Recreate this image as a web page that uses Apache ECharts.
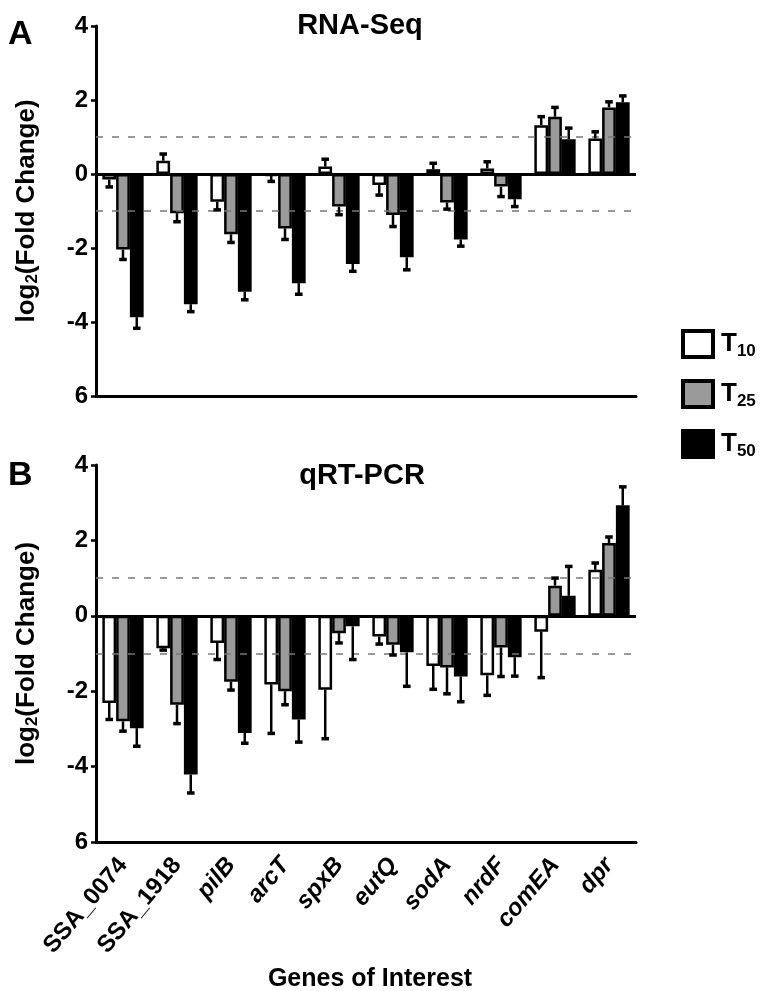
<!DOCTYPE html>
<html>
<head>
<meta charset="utf-8">
<script src="https://cdn.jsdelivr.net/npm/echarts@6/dist/echarts.min.js"></script>
<style>html,body{margin:0;padding:0;background:#fff;}#c{width:761px;height:991px;}</style>
</head>
<body>
<div id="c"></div>
<script>
const categories = ['SSA_0074','SSA_1918','pilB','arcT','spxB','eutQ','sodA','nrdF','comEA','dpr'];
const seriesNames = ['T10','T25','T50'];
const yTicks = [-6,-4,-2,0,2,4];
const yTickLabels = ['6','-4','-2','0','2','4'];
const thresholds = [1,-1];

// Panel A: RNA-Seq
const rnaT10 = [-0.15, 0.36, -0.75, -0.05, 0.20, -0.30, 0.13, 0.15, 1.32, 0.96];
const rnaT10Err = [0.20, 0.18, 0.22, 0.15, 0.20, 0.27, 0.16, 0.18, 0.23, 0.18];
const rnaT25 = [-2.04, -1.06, -1.63, -1.47, -0.88, -1.11, -0.77, -0.34, 1.55, 1.80];
const rnaT25Err = [0.27, 0.23, 0.22, 0.30, 0.22, 0.31, 0.18, 0.27, 0.25, 0.15];
const rnaT50 = [-3.87, -3.52, -3.18, -2.95, -2.43, -2.25, -1.77, -0.68, 0.94, 1.94];
const rnaT50Err = [0.30, 0.20, 0.22, 0.30, 0.20, 0.34, 0.18, 0.20, 0.30, 0.17];

// Panel B: qRT-PCR
const pcrT10 = [-2.31, -0.86, -0.72, -1.82, -1.96, -0.55, -1.33, -1.58, -0.42, 1.22];
const pcrT10Err = [0.44, 0.05, 0.44, 1.30, 1.30, 0.20, 0.62, 0.53, 1.22, 0.18];
const pcrT25 = [-2.80, -2.36, -1.75, -2.00, -0.46, -0.77, -1.37, -0.84, 0.80, 1.93];
const pcrT25Err = [0.26, 0.50, 0.22, 0.36, 0.26, 0.27, 0.70, 0.77, 0.20, 0.16];
const pcrT50 = [-2.98, -4.21, -3.11, -2.75, -0.28, -0.97, -1.61, -1.10, 0.53, 2.93];
const pcrT50Err = [0.48, 0.49, 0.27, 0.60, 0.88, 0.90, 0.67, 0.50, 0.78, 0.49];

const FONT = "'Liberation Sans', Arial, Helvetica, sans-serif";
const fills = ['#ffffff', '#9a9a9a', '#000000'];
const BAR_FRAC = 0.255;
const italicGenes = ['pilB','arcT','spxB','eutQ','sodA','nrdF','comEA','dpr'];

function errRender(pos) {
  return function (params, api) {
    const idx = api.value(0), v = api.value(1), e = api.value(2);
    const band = api.size([1, 0])[0];
    const bw = band * BAR_FRAC;
    const x = api.coord([idx, 0])[0] + (pos - 1) * bw;
    const dir = v >= 0 ? 1 : -1;
    const y0 = api.coord([idx, v])[1];
    const y1 = api.coord([idx, v + dir * e])[1];
    const cap = bw * 0.55;
    return {
      type: 'group',
      children: [
        {type: 'line', shape: {x1: x, y1: y0, x2: x, y2: y1}, style: {stroke: '#000', lineWidth: 2.5}},
        {type: 'line', shape: {x1: x - cap / 2, y1: y1, x2: x + cap / 2, y2: y1}, style: {stroke: '#000', lineWidth: 3.5}}
      ]
    };
  };
}

function yAxisFor(gi) {
  return {
    type: 'value', gridIndex: gi, min: -6, max: 4, interval: 2,
    axisLine: {show: true, lineStyle: {color: '#000', width: 3}},
    axisTick: {show: true, length: 5, lineStyle: {color: '#000', width: 2.5}},
    splitLine: {show: false},
    axisLabel: {
      fontFamily: FONT, fontWeight: 'bold', fontSize: 24, color: '#000', margin: 8,
      formatter: v => yTickLabels[yTicks.indexOf(v)]
    },
    name: '{a|log}{s|2}{a|(Fold Change)}',
    nameLocation: 'middle', nameRotate: 90, nameGap: 55,
    nameTextStyle: {
      rich: {
        a: {fontFamily: FONT, fontWeight: 'bold', fontSize: 26, color: '#000'},
        s: {fontFamily: FONT, fontWeight: 'bold', fontSize: 17, color: '#000', padding: [11, 0, 0, 0]}
      }
    }
  };
}

function xAxisFor(gi, showLabels) {
  return {
    type: 'category', gridIndex: gi, data: categories, position: 'bottom',
    axisLine: {onZero: false, lineStyle: {color: '#000', width: 3}},
    axisTick: {alignWithLabel: true, length: 6, lineStyle: {color: '#000', width: 2.5}},
    axisLabel: showLabels ? {
      show: true, rotate: 50, margin: 19, interval: 0,
      formatter: v => italicGenes.includes(v) ? '{i|' + v + '}' : '{n|' + v + '}',
      rich: {
        i: {fontFamily: FONT, fontWeight: 'bold', fontStyle: 'italic', fontSize: 24, color: '#000'},
        n: {fontFamily: FONT, fontWeight: 'bold', fontSize: 24, color: '#000'}
      }
    } : {show: false}
  };
}

function panelSeries(gi, vals, errs) {
  const out = [];
  vals.forEach((arr, k) => {
    const s = {
      name: seriesNames[k], type: 'bar', xAxisIndex: gi, yAxisIndex: gi,
      data: arr, barWidth: (BAR_FRAC * 100) + '%', barGap: '0%',
      itemStyle: {color: fills[k], borderColor: '#000', borderWidth: 2.5},
      z: 2
    };
    if (k === 0) {
      s.markLine = {
        silent: true, symbol: 'none', label: {show: false}, animation: false,
        data: [
          {yAxis: 0, lineStyle: {color: '#000', width: 3, type: 'solid'}},
          {yAxis: thresholds[0], lineStyle: {color: '#777', width: 1.5, type: [7, 9]}},
          {yAxis: thresholds[1], lineStyle: {color: '#777', width: 1.5, type: [7, 9]}}
        ]
      };
    }
    out.push(s);
  });
  vals.forEach((arr, k) => {
    out.push({
      name: 'err' + gi + k, type: 'custom', xAxisIndex: gi, yAxisIndex: gi,
      renderItem: errRender(k), z: 5,
      data: arr.map((v, i) => [i, v, errs[k][i]])
    });
  });
  return out;
}

const chart = echarts.init(document.getElementById('c'), null, {renderer: 'canvas'});
chart.setOption({
  animation: false,
  backgroundColor: '#fff',
  grid: [
    {left: 96, top: 26, width: 540, height: 370},
    {left: 96, top: 465, width: 540, height: 377}
  ],
  xAxis: [xAxisFor(0, false), xAxisFor(1, true)],
  yAxis: [yAxisFor(0), yAxisFor(1)],
  legend: {
    data: seriesNames, orient: 'vertical', left: 676, top: 324,
    icon: 'rect', itemWidth: 30, itemHeight: 26, itemGap: 19,
    itemStyle: {borderColor: '#000', borderWidth: 4},
    formatter: n => '{t|T}{s|' + n.slice(1) + '}',
    textStyle: {
      padding: [0, 0, 0, 3],
      rich: {
        t: {fontFamily: FONT, fontWeight: 'bold', fontSize: 26, color: '#000'},
        s: {fontFamily: FONT, fontWeight: 'bold', fontSize: 17, color: '#000', padding: [15, 0, 0, 0]}
      }
    }
  },
  graphic: [
    {type: 'text', left: 8, top: 18, style: {text: 'A', font: "bold 34px " + FONT, fill: '#000'}},
    {type: 'text', left: 8, top: 459, style: {text: 'B', font: "bold 34px " + FONT, fill: '#000'}},
    {type: 'text', x: 360, y: 26, style: {text: 'RNA-Seq', font: "bold 29px " + FONT, fill: '#000', textAlign: 'center', textVerticalAlign: 'middle'}},
    {type: 'text', x: 362, y: 476, style: {text: 'qRT-PCR', font: "bold 29px " + FONT, fill: '#000', textAlign: 'center', textVerticalAlign: 'middle'}},
    {type: 'text', x: 370, y: 979, style: {text: 'Genes of Interest', font: "bold 25px " + FONT, fill: '#000', textAlign: 'center', textVerticalAlign: 'middle'}}
  ],
  series: [].concat(
    panelSeries(0, [rnaT10, rnaT25, rnaT50], [rnaT10Err, rnaT25Err, rnaT50Err]),
    panelSeries(1, [pcrT10, pcrT25, pcrT50], [pcrT10Err, pcrT25Err, pcrT50Err])
  )
});
</script>
</body>
</html>
